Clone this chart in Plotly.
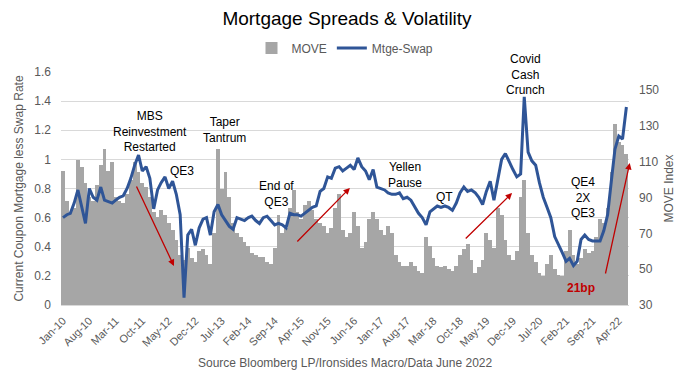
import pandas as pd
import plotly.graph_objects as go

# ---------------- data (monthly readings, Jan-2010 .. Jun-2022) ----------------
start_month = "2010-01-01"
n_months = 150

mtge_swap = [
    0.60, 0.62, 0.63, 0.70, 0.79, 0.68, 0.56, 0.80, 0.74, 0.72, 0.81, 0.72,   # 2010
    0.71, 0.70, 0.72, 0.74, 0.75, 0.80, 0.87, 0.96, 1.03, 0.92, 0.95, 0.87,   # 2011
    0.66, 0.79, 0.84, 0.88, 0.80, 0.85, 0.76, 0.62, 0.05, 0.48, 0.52, 0.41,   # 2012
    0.53, 0.59, 0.60, 0.48, 0.64, 0.69, 0.62, 0.58, 0.54, 0.52, 0.60, 0.59,   # 2013
    0.58, 0.60, 0.61, 0.58, 0.56, 0.60, 0.61, 0.58, 0.55, 0.56, 0.55, 0.53,   # 2014
    0.63, 0.62, 0.62, 0.61, 0.63, 0.65, 0.67, 0.68, 0.78, 0.80, 0.88, 0.87,   # 2015
    0.94, 0.95, 0.92, 0.94, 0.96, 0.93, 1.01, 0.95, 0.92, 0.86, 0.93, 0.81,   # 2016
    0.80, 0.79, 0.77, 0.76, 0.76, 0.77, 0.73, 0.74, 0.72, 0.68, 0.63, 0.60,   # 2017
    0.55, 0.64, 0.66, 0.68, 0.67, 0.68, 0.67, 0.65, 0.70, 0.77, 0.81, 0.78,   # 2018
    0.79, 0.77, 0.74, 0.69, 0.78, 0.85, 0.72, 0.86, 1.00, 1.04, 0.98, 0.93,   # 2019
    0.88, 0.90, 1.43, 1.05, 0.99, 0.96, 0.84, 0.74, 0.67, 0.60, 0.47, 0.42,   # 2020
    0.36, 0.30, 0.32, 0.27, 0.30, 0.45, 0.48, 0.45, 0.44, 0.44, 0.44, 0.51,   # 2021
    0.62, 0.86, 1.07, 1.16, 1.14, 1.36,                                       # 2022
]

move_index = [
    105, 88, 82, 84, 111, 107, 98, 90, 88, 97, 108, 117,     # 2010
    105, 110, 90, 88, 87, 92, 100, 110, 104, 98, 96, 90,     # 2011
    82, 79, 83, 80, 76, 72, 66, 58, 55, 62, 56, 54,          # 2012
    60, 61, 58, 53, 70, 117, 95, 104, 90, 76, 70, 68,        # 2013
    65, 63, 59, 58, 57, 57, 54, 53, 62, 80, 70, 73,          # 2014
    84, 94, 82, 78, 86, 88, 83, 78, 76, 74, 70, 73,          # 2015
    84, 92, 72, 68, 70, 82, 74, 62, 65, 78, 82, 78,          # 2016
    72, 69, 74, 70, 58, 54, 52, 52, 54, 52, 49, 48,          # 2017
    68, 63, 56, 52, 51, 52, 50, 49, 52, 58, 61, 64,          # 2018
    55, 48, 51, 55, 70, 66, 62, 84, 80, 66, 58, 55,          # 2019
    60, 90, 100, 70, 58, 54, 48, 46, 53, 58, 50, 47,         # 2020
    46, 60, 72, 58, 53, 56, 61, 59, 60, 68, 78, 76,          # 2021
    84, 104, 131, 121, 119, 114,                             # 2022
]

left_ticks = [0, 0.2, 0.4, 0.6, 0.8, 1.0, 1.2, 1.4, 1.6]
right_ticks = [30, 50, 70, 90, 110, 130, 150]

left_range = [0, 1.6]
right_range = [30, 160]

dates = pd.date_range(start_month, periods=n_months, freq="MS")

GRAY_TXT = "#595959"
FONT = "Liberation Sans, Arial, sans-serif"
RED = "#C00000"

# gridlines (drawn on the base axis so they sit under the bars) at the left-axis ticks
scale = (right_range[1] - right_range[0]) / (left_range[1] - left_range[0])
grid_vals = [right_range[0] + (v - left_range[0]) * scale for v in left_ticks]

fig = go.Figure()
fig.add_trace(go.Bar(
    x=dates, y=move_index, name="MOVE", yaxis="y",
    marker=dict(color="#A6A6A6", line=dict(width=0)),
    width=31 * 24 * 3600 * 1000, hoverinfo="skip",
))
fig.add_trace(go.Scatter(
    x=dates, y=mtge_swap, name="Mtge-Swap", yaxis="y2", mode="lines",
    line=dict(color="#2F5597", width=3), hoverinfo="skip",
))

notes = [
    ("MBS<br>Reinvestment<br>Restarted", "2011-12-01", 1.19),
    ("QE3", "2012-08-15", 0.92),
    ("Taper<br>Tantrum", "2013-07-25", 1.20),
    ("End of<br>QE3", "2014-09-18", 0.76),
    ("Yellen<br>Pause", "2017-07-15", 0.89),
    ("QT", "2018-06-01", 0.74),
    ("Covid<br>Cash<br>Crunch", "2020-03-15", 1.58),
    ("QE4<br>2X<br>QE3", "2021-06-18", 0.74),
]
annotations = []
for txt, xx, yy in notes:
    annotations.append(dict(text=txt, x=xx, y=yy, xref="x", yref="y2",
                            showarrow=False, font=dict(family=FONT, size=12, color="#000000"),
                            align="center"))
annotations.append(dict(text="<b>21bp</b>", x="2021-06-01", y=0.117, xref="x", yref="y2",
                        showarrow=False, font=dict(family=FONT, size=12, color=RED)))

arrows = [
    (("2011-08-10", 0.824), ("2012-06-12", 0.268)),
    (("2015-02-18", 0.426), ("2016-04-28", 0.804)),
    (("2018-11-04", 0.446), ("2019-11-24", 0.769)),
    (("2021-12-12", 0.206), ("2022-06-28", 0.975)),
]
for (tx, ty), (hx, hy) in arrows:
    annotations.append(dict(text="", x=hx, y=hy, ax=tx, ay=ty, xref="x", yref="y2",
                            axref="x", ayref="y2", showarrow=True, arrowhead=2,
                            arrowsize=1, arrowwidth=1.3, arrowcolor=RED))

annotations.append(dict(text="Source Bloomberg LP/Ironsides Macro/Data June 2022",
                        x=0.5, y=-(363 - 305) / 233.0, xref="paper", yref="paper",
                        yanchor="middle", showarrow=False,
                        font=dict(family=FONT, size=12, color=GRAY_TXT)))

fig.update_layout(
    width=694, height=375,
    margin=dict(l=61, r=65, t=72, b=70, autoexpand=False),
    paper_bgcolor="white", plot_bgcolor="white",
    font=dict(family=FONT, size=12, color=GRAY_TXT),
    title=dict(text="Mortgage Spreads & Volatility", x=0.5, xanchor="center",
               y=1 - 18 / 375, yanchor="middle",
               font=dict(family=FONT, size=19, color="#000000")),
    bargap=0,
    showlegend=True,
    hovermode=False,
    legend=dict(orientation="h", x=0.5, xanchor="center", y=(305 - 48) / 233.0,
                yanchor="middle", font=dict(size=12, color=GRAY_TXT),
                bgcolor="rgba(0,0,0,0)"),
    xaxis=dict(type="date", range=["2009-12-16", "2022-06-22"], automargin=False,
               tick0="2010-01-01", dtick="M7", tickformat="%b-%y", tickangle=-45,
               showgrid=False, showline=True, linecolor="#D9D9D9", ticks="",
               ticklabelstandoff=4,
               tickfont=dict(size=11, color=GRAY_TXT)),
    yaxis=dict(side="right", range=right_range, tickvals=right_ticks, automargin=False,
               showgrid=False, zeroline=False, ticks="", ticklabelstandoff=9,
               minor=dict(tickvals=grid_vals, showgrid=True, gridcolor="#D9D9D9",
                          gridwidth=1, ticks=""),
               title=dict(text="MOVE Index", standoff=6, font=dict(size=12, color=GRAY_TXT)),
               tickfont=dict(size=12, color=GRAY_TXT)),
    yaxis2=dict(side="left", overlaying="y", range=left_range, tickvals=left_ticks,
                automargin=False, showgrid=False, zeroline=False, ticks="",
                ticklabelstandoff=9,
                title=dict(text="Current Coupon Mortgage less Swap Rate", standoff=8,
                           font=dict(size=12, color=GRAY_TXT)),
                tickfont=dict(size=12, color=GRAY_TXT)),
    annotations=annotations,
)

fig.write_html("out.html", config={"displayModeBar": False},
               post_script="document.body.style.margin='0';")
